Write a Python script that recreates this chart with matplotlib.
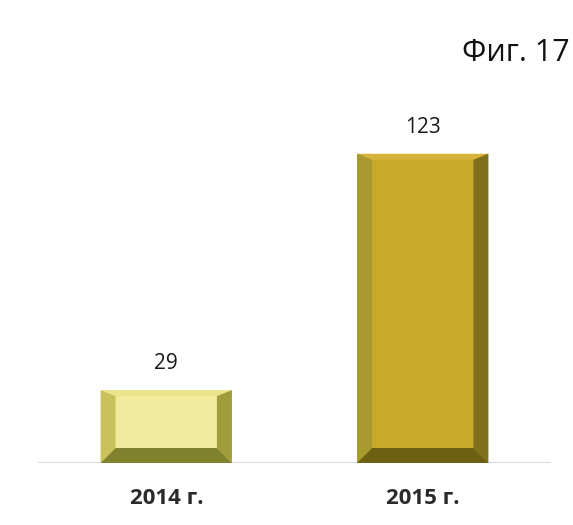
import numpy as np
import matplotlib
matplotlib.use('Agg')
import matplotlib.pyplot as plt
from matplotlib.patches import Polygon

plt.rcParams['font.family'] = ['Open Sans', 'DejaVu Sans']

years = ['2014 г.', '2015 г.']
values = [29, 123]

# face, top, left, right, bottom bevel colours
face_colors = ['#F2EA9C', '#C9A927']
top_colors = ['#EDE38A', '#D4B43A']
left_colors = ['#C9C25C', '#A89A30']
right_colors = ['#A09C3C', '#80701C']
bottom_colors = ['#80822E', '#6E6012']

fig = plt.figure(figsize=(5.73, 5.25), dpi=100)
ax = fig.add_axes([38 / 573, 62 / 525, 513 / 573, 352 / 525])
x = np.arange(len(years))
bars = ax.bar(x, values, width=0.512, color=face_colors, zorder=2)
ax.set_xlim(-0.5, 1.5)
ax.set_ylim(0, 140)

# bevel size in pixels -> data units
px_x = 513 / 2.0
px_y = 352 / 140.0
bs = 15 / px_x
bt = 6 / px_y
bb = 15 / px_y

for i, p in enumerate(bars.patches):
    x0 = p.get_x()
    x1 = x0 + p.get_width()
    y0 = 0
    y1 = p.get_height()
    ax.add_patch(Polygon([(x0, y1), (x1, y1), (x1 - bs, y1 - bt), (x0 + bs, y1 - bt)],
                         closed=True, color=top_colors[i], lw=0, zorder=3))
    ax.add_patch(Polygon([(x0, y0), (x0, y1), (x0 + bs, y1 - bt), (x0 + bs, y0 + bb)],
                         closed=True, color=left_colors[i], lw=0, zorder=3))
    ax.add_patch(Polygon([(x1, y0), (x1, y1), (x1 - bs, y1 - bt), (x1 - bs, y0 + bb)],
                         closed=True, color=right_colors[i], lw=0, zorder=3))
    ax.add_patch(Polygon([(x0, y0), (x1, y0), (x1 - bs, y0 + bb), (x0 + bs, y0 + bb)],
                         closed=True, color=bottom_colors[i], lw=0, zorder=3))
    ax.text(x[i], y1 + 10.5, str(values[i]), ha='center', va='center',
            fontsize=15, color='#1a1a1a')

ax.axhline(0, color='#CDD3DD', lw=1.2, zorder=1)
for s in ax.spines.values():
    s.set_visible(False)
ax.set_yticks([])
ax.set_xticks(x)
ax.set_xticklabels(years, fontsize=16, fontweight='bold', color='#2a2a2a')
ax.tick_params(axis='x', length=0, pad=18)

fig.text(570 / 573, 1 - 53 / 525, 'Фиг. 17', ha='right', va='center',
         fontsize=22, color='#111111')

fig.savefig('out.png', dpi=100)
